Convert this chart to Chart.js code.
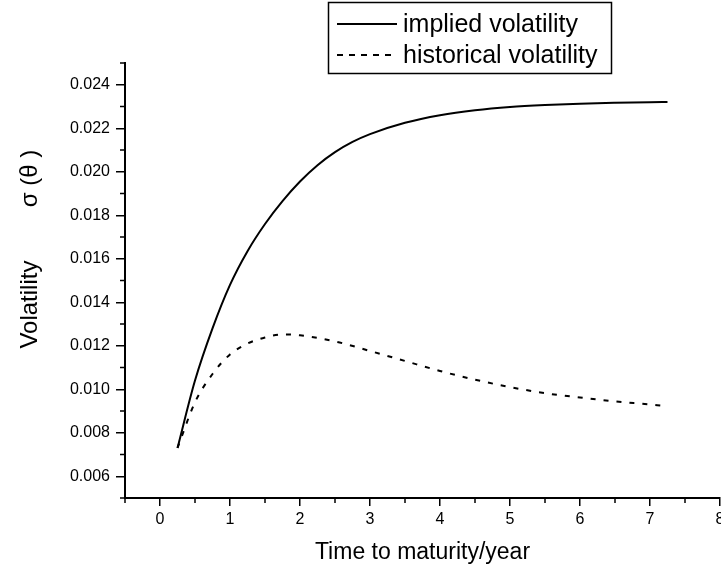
<!DOCTYPE html>
<html>
<head>
<meta charset="utf-8">
<script src="https://cdn.jsdelivr.net/npm/chart.js@4.4.1/dist/chart.umd.min.js"></script>
<style>
	html, body { margin: 0; padding: 0; background: #fff; }
	#wrap { width: 721px; height: 575px; }
</style>
</head>
<body>
<div id="wrap"><canvas id="chart"></canvas></div>
<script>
// values
const impliedTime = [ 0.25, 0.5, 0.75, 1, 1.25, 1.5, 1.75, 2, 2.25, 2.5, 2.75, 3, 3.5, 4, 4.5, 5, 5.5, 6, 6.5, 7, 7.25 ];
const impliedVol = [ 0.0073, 0.0104, 0.0128, 0.0148, 0.01635, 0.0176, 0.01865, 0.01955, 0.0203, 0.0209, 0.02137, 0.02173, 0.02225, 0.0226, 0.02283, 0.02298, 0.02307, 0.02313, 0.02317, 0.0232, 0.02321 ];
const histTime = [ 0.25, 0.5, 0.75, 1, 1.25, 1.5, 1.75, 2, 2.5, 3, 3.5, 4, 4.5, 5, 5.5, 6, 6.5, 7, 7.15 ];
const histVol = [ 0.0073, 0.0094, 0.0107, 0.0116, 0.0121, 0.01238, 0.01252, 0.01248, 0.0122, 0.01176, 0.0113, 0.01084, 0.01044, 0.0101, 0.00982, 0.00962, 0.00944, 0.0093, 0.00925 ];

const xTicks = [ 0, 1, 2, 3, 4, 5, 6, 7, 8 ];
const xMinorTicks = [ -0.5, 0.5, 1.5, 2.5, 3.5, 4.5, 5.5, 6.5, 7.5 ];
const yTicks = [ 0.006, 0.008, 0.010, 0.012, 0.014, 0.016, 0.018, 0.020, 0.022, 0.024 ];
const yMinorTicks = [ 0.005, 0.007, 0.009, 0.011, 0.013, 0.015, 0.017, 0.019, 0.021, 0.023, 0.025 ];

const seriesLabels = [ 'implied volatility', 'historical volatility' ];
const xTitle = 'Time to maturity/year';
const yTitle = 'Volatility        σ (θ )';

const FONT = '"Liberation Sans", Arial, sans-serif';
const DASH = [ 5, 8 ];

const toPoints = ( xs, ys ) => xs.map( ( x, i ) => ( { x: x, y: ys[ i ] } ) );

// short ticks between the labelled ones
const minorTicks = {
	id: 'minorTicks',
	afterDraw( chart ) {
		const { ctx, scales: { x, y } } = chart;
		ctx.save();
		ctx.strokeStyle = '#000';
		ctx.lineWidth = 1.5;
		ctx.beginPath();
		for ( const v of xMinorTicks ) {
			const px = x.getPixelForValue( v );
			ctx.moveTo( px, x.top );
			ctx.lineTo( px, x.top + 5 );
		}
		for ( const v of yMinorTicks ) {
			const py = y.getPixelForValue( v );
			ctx.moveTo( y.right, py );
			ctx.lineTo( y.right - 5, py );
		}
		ctx.stroke();
		ctx.restore();
	}
};

// rotated y title, sits above the middle of the axis
const yAxisTitle = {
	id: 'yAxisTitle',
	afterDraw( chart ) {
		const { ctx, chartArea } = chart;
		ctx.save();
		ctx.translate( 30, chartArea.top + ( chartArea.bottom - chartArea.top ) * 0.428 );
		ctx.rotate( -Math.PI / 2 );
		ctx.font = '24px ' + FONT;
		ctx.fillStyle = '#000';
		ctx.textAlign = 'center';
		ctx.textBaseline = 'middle';
		ctx.fillText( yTitle, 0, 0 );
		ctx.restore();
	}
};

// framed legend in the top
const boxLegend = {
	id: 'boxLegend',
	afterDraw( chart ) {
		const ctx = chart.ctx;
		const left = 328, top = 2, w = 283, h = 71;
		ctx.save();
		ctx.strokeStyle = '#000';
		ctx.lineWidth = 1.5;
		ctx.setLineDash( [] );
		ctx.fillStyle = '#fff';
		ctx.fillRect( left, top, w, h );
		ctx.strokeRect( left + 0.5, top + 0.5, w, h );
		ctx.font = '25px ' + FONT;
		ctx.textBaseline = 'middle';
		chart.data.datasets.forEach( ( ds, i ) => {
			const yy = top + 22 + i * 31;
			ctx.lineWidth = 2;
			ctx.setLineDash( i ? [ 6, 6 ] : [] );
			ctx.beginPath();
			ctx.moveTo( left + 9, yy );
			ctx.lineTo( left + 69, yy );
			ctx.stroke();
			ctx.setLineDash( [] );
			ctx.fillStyle = '#000';
			ctx.fillText( ds.label, left + 75, yy + 1 );
		} );
		ctx.restore();
	}
};

new Chart( document.getElementById( 'chart' ), {
	type: 'scatter',
	data: {
		datasets: [
			{
				label: seriesLabels[ 0 ],
				data: toPoints( impliedTime, impliedVol ),
				showLine: true,
				borderColor: '#000',
				borderWidth: 2,
				pointRadius: 0,
				cubicInterpolationMode: 'monotone'
			},
			{
				label: seriesLabels[ 1 ],
				data: toPoints( histTime, histVol ),
				showLine: true,
				borderColor: '#000',
				borderWidth: 2,
				borderDash: DASH,
				pointRadius: 0,
				cubicInterpolationMode: 'monotone'
			}
		]
	},
	options: {
		responsive: true,
		maintainAspectRatio: false,
		animation: false,
		layout: {
			padding: { top: 63, right: 1, left: 0, bottom: 0 }
		},
		plugins: {
			legend: { display: false },
			tooltip: { enabled: false }
		},
		scales: {
			x: {
				type: 'linear',
				min: -0.5,
				max: 8,
				afterBuildTicks: ( s ) => { s.ticks = xTicks.map( v => ( { value: v } ) ); },
				afterFit: ( s ) => { s.paddingLeft = 0; s.paddingRight = 0; s.height = 77; },
				border: { color: '#000', width: 2 },
				grid: {
					drawOnChartArea: false,
					tickLength: 8,
					tickColor: '#000',
					lineWidth: 1.5
				},
				ticks: {
					color: '#000',
					padding: 4,
					maxRotation: 0,
					font: { family: FONT, size: 16 }
				},
				title: {
					display: true,
					text: xTitle,
					color: '#000',
					font: { family: FONT, size: 23 },
					padding: { top: 0, bottom: 9 }
				}
			},
			y: {
				min: 0.005,
				max: 0.025,
				afterBuildTicks: ( s ) => { s.ticks = yTicks.map( v => ( { value: v } ) ); },
				afterFit: ( s ) => { s.width = 125; },
				border: { color: '#000', width: 2 },
				grid: {
					drawOnChartArea: false,
					tickLength: 9,
					tickColor: '#000',
					lineWidth: 1.5
				},
				ticks: {
					color: '#000',
					padding: 6,
					font: { family: FONT, size: 16 },
					callback: ( v ) => v.toFixed( 3 )
				}
			}
		}
	},
	plugins: [ minorTicks, yAxisTitle, boxLegend ]
} );
</script>
</body>
</html>
